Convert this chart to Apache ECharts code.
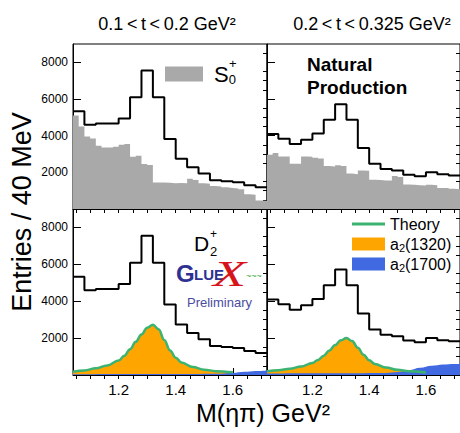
<!DOCTYPE html>
<html>
<head>
<meta charset="utf-8">
<script src="https://cdn.jsdelivr.net/npm/echarts@6/dist/echarts.min.js"></script>
<style>
  html, body { margin: 0; padding: 0; background: #fff; }
  #chart { width: 460px; height: 433px; }
</style>
</head>
<body>
<div id="chart"></div>
<script>
// M(eta pi) range and bin widths (GeV)
const massMin = 1.04
const massMax = 1.72
const xLabels = [1.2, 1.4, 1.6]
const xMinorTicks = [1.05, 1.1, 1.15, 1.2, 1.25, 1.3, 1.35, 1.4, 1.45, 1.5, 1.55, 1.6, 1.65, 1.7]
const yLabels = [2000, 4000, 6000, 8000]
const yMajorTicks = [0, 2000, 4000, 6000, 8000]
const yMinorTicks = [500, 1000, 1500, 2500, 3000, 3500, 4500, 5000, 5500, 6500, 7000, 7500, 8500]

// total (40 MeV bins)
const totalLeft = [5330, 4600, 4660, 4660, 4930, 6090, 7550, 6090, 3825, 2735, 2280, 1935, 1570, 1515, 1460, 1300, 1190]
const totalRight = [4090, 3830, 3540, 3780, 4120, 4870, 5720, 4870, 3330, 2470, 2180, 2100, 1870, 1780, 2000, 1890, 1830]

// S0+ wave (20 MeV bins)
const s0Left = [5100, 4500, 3950, 3850, 3450, 3350, 3350, 3400, 3500, 3550, 2850, 2900, 2450, 2400, 1450, 1450,
  1430, 1400, 1420, 1400, 1650, 1580, 1400, 1380, 1250, 1230, 1180, 1150, 1120, 1080, 800, 780, 470, 450]
const s0Right = [2960, 3050, 2870, 2870, 2470, 2470, 2870, 2850, 2800, 2750, 2350, 2320, 2380, 2340, 1930, 1900,
  2100, 2080, 1600, 1580, 1560, 1550, 1800, 1750, 1330, 1320, 1290, 1280, 1320, 1300, 1150, 1140, 1100, 1080]

// a2(1320) / theory curve
const a2Mass = [1.04, 1.08, 1.12, 1.16, 1.20, 1.22, 1.24, 1.26, 1.28, 1.30, 1.32, 1.34, 1.36, 1.38, 1.40, 1.42, 1.46, 1.50, 1.54, 1.60]
const a2Left = [180, 250, 360, 520, 780, 1050, 1400, 1800, 2200, 2560, 2720, 2480, 1900, 1330, 940, 680, 430, 290, 210, 145]
const a2Right = [200, 260, 340, 460, 650, 820, 1050, 1330, 1620, 1880, 2000, 1840, 1480, 1100, 800, 600, 400, 280, 200, 130]

// a2(1700)
const a2pMassLeft = [1.04, 1.40, 1.56, 1.60, 1.64, 1.68, 1.72]
const a2pLeft = [40, 50, 70, 110, 170, 220, 250]
const a2pMassRight = [1.04, 1.30, 1.46, 1.50, 1.54, 1.58, 1.62, 1.66, 1.70, 1.72]
const a2pRight = [80, 90, 110, 160, 260, 390, 500, 570, 600, 600]

const FONT = 'Liberation Sans, Arial, sans-serif'
const GRAY = '#a9a9a9'
const ORANGE = '#ffa500'
const BLUE = '#4169e1'
const GREEN = '#3cb371'

function stepPoints(values, width) {
  const pts = values.map((v, i) => [+(massMin + i * width).toFixed(3), v])
  pts.push([massMax, values[values.length - 1]])
  return pts
}
function pairs(xs, ys) {
  return xs.map((x, i) => [x, ys[i]])
}

const grids = [
  { left: 73, top: 44, width: 194, height: 165 },
  { left: 267, top: 44, width: 196, height: 165 },
  { left: 73, top: 209, width: 194, height: 166 },
  { left: 267, top: 209, width: 196, height: 166 }
].map(g => Object.assign(g, { show: true, borderColor: '#000', borderWidth: 1 }))

const xAxis = []
const yAxis = []
for (let i = 0; i < 4; i++) {
  xAxis.push({
    gridIndex: i, type: 'value', min: massMin, max: massMax,
    axisLine: { show: true, lineStyle: { color: '#000', width: 1 } },
    axisTick: { show: true, inside: true, length: 7, customValues: xLabels, lineStyle: { color: '#000' } },
    axisLabel: { show: i >= 2, customValues: xLabels, formatter: v => v.toFixed(1), fontSize: 15, color: '#000', fontFamily: FONT, margin: 7 },
    splitLine: { show: false }
  })
  yAxis.push({
    gridIndex: i, type: 'value', min: 0, max: 9000,
    axisLine: { show: true, lineStyle: { color: '#000', width: 1 } },
    axisTick: { show: true, inside: true, length: 8, customValues: yMajorTicks, lineStyle: { color: '#000' } },
    axisLabel: { show: i % 2 === 0, customValues: yLabels, formatter: v => String(v), fontSize: 12, color: '#000', fontFamily: FONT, margin: 5 },
    splitLine: { show: false }
  })
}
// minor ticks
for (let i = 0; i < 4; i++) {
  xAxis.push({
    gridIndex: i, type: 'value', min: massMin, max: massMax,
    axisLine: { show: false },
    axisTick: { show: true, inside: true, length: 4, customValues: xMinorTicks, lineStyle: { color: '#000' } },
    axisLabel: { show: false, customValues: xMinorTicks },
    splitLine: { show: false }
  })
  yAxis.push({
    gridIndex: i, type: 'value', min: 0, max: 9000,
    axisLine: { show: false },
    axisTick: { show: true, inside: true, length: 4, customValues: yMinorTicks, lineStyle: { color: '#000' } },
    axisLabel: { show: false, customValues: yMinorTicks },
    splitLine: { show: false }
  })
}

function grayArea(idx, values) {
  return {
    name: 'S0', type: 'line', step: 'end', xAxisIndex: idx, yAxisIndex: idx,
    data: stepPoints(values, 0.02), symbol: 'none', showSymbol: false, color: GRAY,
    lineStyle: { width: 0 }, areaStyle: { color: GRAY, opacity: 1 }, z: 1
  }
}
function totalLine(idx, values) {
  return {
    name: 'total', type: 'line', step: 'end', xAxisIndex: idx, yAxisIndex: idx,
    data: stepPoints(values, 0.04), symbol: 'none', showSymbol: false,
    lineStyle: { color: '#000', width: 2 }, z: 5
  }
}
function a2Area(idx, xs, ys) {
  return {
    name: 'a2(1320)', type: 'line', smooth: 0.4, smoothMonotone: 'x', xAxisIndex: idx, yAxisIndex: idx,
    data: pairs(xs, ys), symbol: 'none', showSymbol: false, color: ORANGE,
    lineStyle: { width: 0 }, areaStyle: { color: ORANGE, opacity: 1 }, z: 2
  }
}
function a2pArea(idx, xs, ys) {
  return {
    name: 'a2(1700)', type: 'line', smooth: 0.4, smoothMonotone: 'x', xAxisIndex: idx, yAxisIndex: idx,
    data: pairs(xs, ys), symbol: 'none', showSymbol: false, color: BLUE,
    lineStyle: { width: 0 }, areaStyle: { color: BLUE, opacity: 1 }, z: 3
  }
}
function theoryLine(idx, xs, ys) {
  return {
    name: 'Theory', type: 'line', smooth: 0.4, smoothMonotone: 'x', xAxisIndex: idx, yAxisIndex: idx,
    data: pairs(xs, ys), symbol: 'none', showSymbol: false, color: GREEN,
    lineStyle: { color: GREEN, width: 2.5 }, z: 4
  }
}

const rich = {
  n: { fontSize: 16, fontFamily: FONT, color: '#000' },
  sub: { fontSize: 11, fontFamily: FONT, color: '#000', padding: [7, 0, 0, 0] },
  s: { fontSize: 22, fontFamily: FONT, color: '#000', padding: [0, 0, 0, 6] },
  sub0: { fontSize: 13, fontFamily: FONT, color: '#000', padding: [10, 0, 0, 0] }
}
const titleStyle = { fontSize: 18, fontWeight: 'normal', fontFamily: FONT, color: '#000' }

const option = {
  animation: false,
  backgroundColor: '#fff',
  title: [
    { text: '0.1\u2009<\u2009t\u2009<\u20090.2 GeV²', left: 162, top: 10, textAlign: 'center', textStyle: titleStyle },
    { text: '0.2\u2009<\u2009t\u2009<\u20090.325 GeV²', left: 367, top: 10, textAlign: 'center', textStyle: titleStyle }
  ],
  grid: grids,
  xAxis,
  yAxis,
  legend: [
    {
      data: [{ name: 'S0', icon: 'rect' }], left: 165, top: 63, padding: 0, itemWidth: 38, itemHeight: 15,
      formatter: () => '{s|S}{sub0|0}', textStyle: { rich }
    },
    {
      data: [{ name: 'Theory', icon: 'rect' }], left: 352, top: 216, padding: 0, itemWidth: 33, itemHeight: 3,
      formatter: () => '{n|Theory}', textStyle: { rich }
    },
    {
      data: [{ name: 'a2(1320)', icon: 'rect' }, { name: 'a2(1700)', icon: 'rect' }],
      orient: 'vertical', left: 352, top: 236, padding: 0, itemWidth: 33, itemHeight: 13, itemGap: 3,
      formatter: name => '{n|a}{sub|2}{n|' + name.slice(2) + '}',
      textStyle: { rich }
    }
  ],
  series: [
    grayArea(0, s0Left), totalLine(0, totalLeft),
    grayArea(1, s0Right), totalLine(1, totalRight),
    a2Area(2, a2Mass, a2Left), a2pArea(2, a2pMassLeft, a2pLeft), theoryLine(2, a2Mass, a2Left), totalLine(2, totalLeft),
    a2Area(3, a2Mass, a2Right), a2pArea(3, a2pMassRight, a2pRight), theoryLine(3, a2Mass, a2Right), totalLine(3, totalRight)
  ],
  graphic: [
    { type: 'text', x: 22, y: 212, rotation: Math.PI / 2,
      style: { text: 'Entries / 40 MeV', font: '27px ' + FONT, fill: '#000', align: 'center', verticalAlign: 'middle', textAlign: 'center', textVerticalAlign: 'middle' } },
    { type: 'text', x: 263, y: 413,
      style: { text: 'M(ηπ) GeV²', font: '25px ' + FONT, fill: '#000', align: 'center', verticalAlign: 'middle', textAlign: 'center', textVerticalAlign: 'middle' } },
    { type: 'text', x: 229, y: 63,
      style: { text: '+', font: '13px ' + FONT, fill: '#000', align: 'left', verticalAlign: 'middle', textAlign: 'left', textVerticalAlign: 'middle' } },
    { type: 'text', x: 307, y: 64,
      style: { text: 'Natural', font: 'bold 19px ' + FONT, fill: '#000', align: 'left', verticalAlign: 'middle', textAlign: 'left', textVerticalAlign: 'middle' } },
    { type: 'text', x: 307, y: 87,
      style: { text: 'Production', font: 'bold 19px ' + FONT, fill: '#000', align: 'left', verticalAlign: 'middle', textAlign: 'left', textVerticalAlign: 'middle' } },
    { type: 'text', x: 194, y: 243,
      style: { text: 'D', font: '21px ' + FONT, fill: '#000', align: 'left', verticalAlign: 'middle', textAlign: 'left', textVerticalAlign: 'middle' } },
    { type: 'text', x: 210, y: 251,
      style: { text: '2', font: '13px ' + FONT, fill: '#000', align: 'left', verticalAlign: 'middle', textAlign: 'left', textVerticalAlign: 'middle' } },
    { type: 'text', x: 210, y: 234,
      style: { text: '+', font: '12px ' + FONT, fill: '#000', align: 'left', verticalAlign: 'middle', textAlign: 'left', textVerticalAlign: 'middle' } },
    { type: 'text', x: 176, y: 273,
      style: { text: 'G', font: 'bold 24px ' + FONT, fill: '#2e3192', align: 'left', verticalAlign: 'middle', textAlign: 'left', textVerticalAlign: 'middle' } },
    { type: 'text', x: 194, y: 274,
      style: { text: 'LUE', font: 'bold 15px ' + FONT, fill: '#2e3192', align: 'left', verticalAlign: 'middle', textAlign: 'left', textVerticalAlign: 'middle' } },
    { type: 'text', x: 213, y: 274, scaleX: 1.5,
      style: { text: 'X', font: 'italic 36px Liberation Serif, serif', fill: '#d7141a', align: 'left', verticalAlign: 'middle', textAlign: 'left', textVerticalAlign: 'middle' } },
    { type: 'text', x: 246, y: 276,
      style: { text: '~~~', font: '9px ' + FONT, fill: '#3aa53a', align: 'left', verticalAlign: 'middle', textAlign: 'left', textVerticalAlign: 'middle' } },
    { type: 'text', x: 187, y: 302,
      style: { text: 'Preliminary', font: '13px ' + FONT, fill: '#4b4ba0', align: 'left', verticalAlign: 'middle', textAlign: 'left', textVerticalAlign: 'middle' } }
  ]
}

const chart = echarts.init(document.getElementById('chart'), null, { renderer: 'svg' })
chart.setOption(option)
</script>
</body>
</html>
